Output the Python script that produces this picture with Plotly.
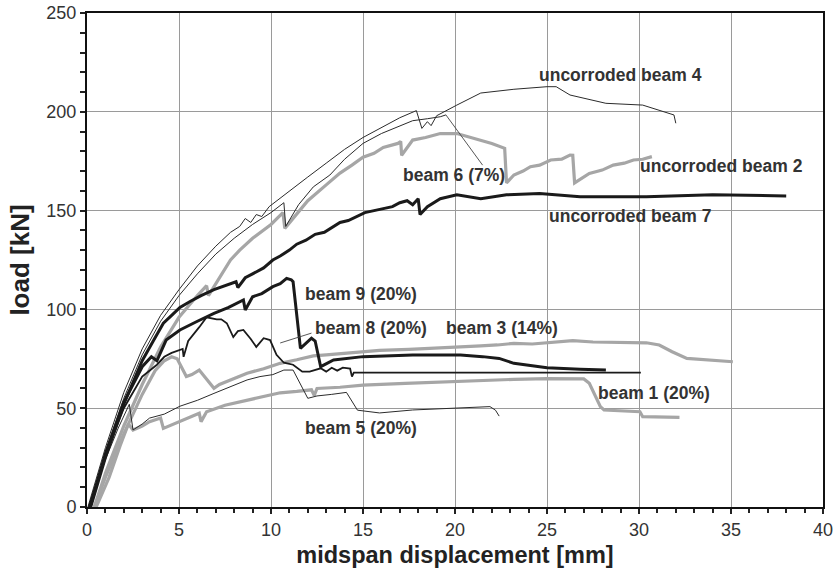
import plotly.graph_objects as go

# ---------------- data ----------------
beam4_x = [0.05, 1, 2, 3, 4, 5, 6, 7, 7.8, 8.3, 8.6, 8.9, 9.2, 9.5, 9.9, 11, 12, 13, 14, 15, 16, 17, 17.9,
           18.2, 18.5, 18.7, 19.0, 19.4, 20.1, 21.4, 23.2, 25.0, 25.5, 26.25, 28.2, 30.2, 31.9, 32.0]
beam4_y = [0, 30, 58, 80, 97, 110, 122, 132, 139, 142, 146, 144, 148, 147, 152, 160, 167, 174, 181, 187, 192, 197, 200.6,
           191.6, 195, 193, 198, 200, 203.4, 209.5, 211.4, 212.7, 212.7, 208.5, 204.3, 203.4, 198.4, 194.2]

beam6_x = [0.15, 1, 2, 3, 4, 5, 6, 7, 8, 9, 10, 10.7, 10.8, 11.5, 12.3, 13.2, 14, 15, 16, 17, 17.7, 18.5, 19.2, 19.5]
beam6_y = [0, 28, 55, 77, 94, 107, 118, 128, 136, 143, 149, 154, 142, 153, 162, 168, 176, 184, 189, 193, 195.5, 196.5, 197.5, 198.4]

beam2_x = [0.4, 1, 2, 3, 4, 5, 6, 6.5, 6.6, 7.0, 7.8, 8.3, 9.0, 10.0, 10.65, 10.75, 11.3, 12.0, 13.0, 13.75, 14.4, 15.0,
           15.6, 16.1, 16.9, 17.05, 17.1, 17.7, 18.4, 19.2, 20.1, 21.0, 22.0, 22.7, 22.8, 23.2, 23.7, 24.1, 24.6, 25.2,
           25.8, 26.25, 26.4, 26.5, 27.3, 28.0, 28.6, 29.2, 29.7, 30.2, 30.7]
beam2_y = [0, 17, 41, 62, 81, 96, 107, 112, 107, 113, 125, 130, 136, 143, 149, 141, 147, 155, 163, 169, 173, 177,
           179, 182, 184, 185, 178, 185.7, 187, 189, 189, 186.6, 184, 181.5, 164, 168, 170, 172.2, 173, 175.6,
           176, 178.1, 178, 164, 168.8, 170.5, 173, 174, 175.6, 176, 177.3]

beam7_x = [0.2, 1, 2, 3, 3.6, 4.15, 4.6, 5.05, 5.6, 6.2, 6.9, 7.5, 8.1, 8.2, 8.6, 9.0, 9.6, 10.1, 10.5, 11.0, 11.4,
           11.9, 12.4, 12.9, 13.4, 13.75, 14.2, 14.7, 15.1, 15.6, 16.1, 16.6, 17.0, 17.4, 17.7, 18.0, 18.1, 18.5,
           19.2, 20.1, 21.4, 22.8, 24.6, 26.8, 30.4, 34.0, 38.0]
beam7_y = [0, 25, 52, 74, 84, 93, 97, 101, 104, 107, 110, 112, 114, 111, 116, 118, 121, 125, 127, 130, 133,
           135, 138, 139, 142, 144, 145, 147, 149, 150, 151, 152, 154, 155, 153, 156, 148, 152,
           156, 158, 156, 158, 158.7, 157, 157, 158, 157.4]

beam9_x = [0.15, 1, 2, 3, 3.5, 3.8, 4.3, 5.05, 6.0, 6.9, 7.7, 8.5, 8.6, 9.0, 9.5, 10.1, 10.5, 10.85, 11.1, 11.2,
           11.6, 11.9, 12.2, 12.4, 12.7, 13.4, 15.0, 17.7, 20.3, 21.5, 22.4, 23.2, 25.0, 26.8, 28.2]
beam9_y = [0, 27, 53, 71, 76, 74, 84.5, 89.6, 94, 98, 101, 104.8, 99.7, 106.4, 108, 111.5, 113, 115.7, 115, 114,
           80.3, 83, 85.4, 84, 71, 74.4, 76.1, 76.9, 76.9, 76.1, 75.2, 72.7, 70.5, 69.7, 69.3]

beam8_x = [0.1, 1, 2, 3, 3.8, 4.2, 4.6, 5.2, 5.25, 5.5, 6.1, 6.5, 7.05, 7.3, 7.6, 7.95, 8.2, 8.5, 8.9, 9.2, 9.6,
           9.95, 10.3, 10.7, 11.2, 11.7, 12.1, 12.7, 13.0, 13.3, 13.6, 13.9, 14.3, 14.4, 14.5, 30.1]
beam8_y = [0, 26, 50, 66, 72, 76, 78, 80, 76, 84, 91, 96, 95, 95, 93, 86, 89, 89.6, 85, 81, 85.4,
           84.5, 77, 73, 72, 68.5, 68.5, 70.2, 68.5, 70.5, 69, 70.5, 70, 66, 68, 68]

beam5_x = [0.1, 1, 1.7, 2.1, 2.3, 2.5, 3.0, 3.4, 4.2, 5.05, 6.0, 6.9, 7.8, 8.7, 9.4, 10.1, 10.7, 11.2, 12.0, 12.5,
           13.3, 14.1, 14.7, 15.9, 17.7, 19.5, 20.5, 21.9, 22.2, 22.4]
beam5_y = [0, 24, 40, 48, 52, 39, 42, 45, 47, 51, 54, 57.5, 61, 64.3, 66, 67, 69.3, 69.3, 55, 56.2,
           57, 58, 49, 47.6, 49.1, 49.9, 50.3, 50.8, 49, 46]

beam3_x = [0.4, 1, 2, 3, 3.7, 4.2, 4.6, 4.9, 5.4, 5.7, 6.1, 6.5, 6.9, 7.2, 8.0, 8.7, 9.6, 10.5, 11.4, 12.3, 13.0,
           13.75, 14.8, 15.9, 17.5, 19.0, 20.2, 21.4, 22.3, 23.2, 24.2, 25.0, 25.7, 26.4, 27.5, 28.6, 29.5, 30.4,
           31.1, 31.8, 32.6, 33.7, 35.1]
beam3_y = [0, 15, 37, 57, 69, 74, 76, 75, 66, 67, 69.3, 65, 60.1, 62, 65, 67.7, 70, 72.7, 74.5, 76.5, 77,
           77.5, 78.5, 79.3, 79.8, 80.3, 81, 81.5, 82, 82.8, 82.5, 83.1, 83.5, 84.2, 83.5, 83.3, 83.5, 83.1,
           82, 78.6, 75.2, 74.4, 73.5]

beam1_x = [0.5, 1.2, 1.8, 2.25, 2.5, 3.0, 3.4, 4.0, 4.15, 4.6, 5.05, 5.6, 6.1, 6.2, 6.5, 7.5, 8.7, 9.6, 10.5, 11.4,
           12.2, 12.35, 12.5, 13.75, 15, 17.3, 19.5, 21.4, 23.2, 25, 27, 27.3, 27.9, 28.1, 29, 30.05, 30.2, 31.2, 32.2]
beam1_y = [0, 15, 31, 42, 39, 41, 43.2, 45, 39.8, 41.5, 43.2, 45.5, 47.4, 43.2, 48.2, 51.5, 54.1, 56, 57.8, 58.5,
           59.3, 56.5, 60, 60.6, 61.7, 62.6, 63.4, 64.3, 64.6, 65, 64.8, 62.6, 50.8, 49.1, 48.6, 48.2, 45.7, 45.6, 45.4]

# leader lines for labels
leader6_x = [19.5, 21.5]
leader6_y = [198.5, 173]
leader8_x = [10.5, 12.2]
leader8_y = [83, 88]

# label texts and anchor points
label_texts = ["uncorroded beam 4", "uncorroded beam 2", "uncorroded beam 7", "beam 6 (7%)",
               "beam 9 (20%)", "beam 8 (20%)", "beam 3 (14%)", "beam 5 (20%)", "beam 1 (20%)"]
label_x = [29.0, 34.5, 29.5, 19.95, 14.9, 15.45, 22.55, 14.9, 30.8]
label_y = [218.7, 172.7, 147.4, 168.0, 107.7, 90.8, 90.8, 40.2, 57.9]

x_ticks = [0, 5, 10, 15, 20, 25, 30, 35, 40]
y_ticks = [0, 50, 100, 150, 200, 250]

GRAY = "#a6a6a6"
BLACK = "#1a1a1a"
THIN = "#2b2b2b"
FONT = "Liberation Sans, Arial, sans-serif"

series = [
    (beam1_x, beam1_y, GRAY, 3.2),
    (beam3_x, beam3_y, GRAY, 3.2),
    (beam2_x, beam2_y, GRAY, 3.2),
    (beam5_x, beam5_y, THIN, 1.0),
    (beam6_x, beam6_y, THIN, 1.0),
    (beam4_x, beam4_y, THIN, 1.0),
    (beam8_x, beam8_y, BLACK, 1.8),
    (beam9_x, beam9_y, BLACK, 3.0),
    (beam7_x, beam7_y, BLACK, 3.0),
]

fig = go.Figure()
for xs, ys, col, w in series:
    fig.add_trace(go.Scatter(x=xs, y=ys, mode="lines",
                             line=dict(color=col, width=w), showlegend=False, hoverinfo="skip"))

for lx, ly in [(leader6_x, leader6_y), (leader8_x, leader8_y)]:
    fig.add_trace(go.Scatter(x=lx, y=ly, mode="lines",
                             line=dict(color="#444444", width=0.9), showlegend=False, hoverinfo="skip"))

for t, x, y in zip(label_texts, label_x, label_y):
    fig.add_annotation(x=x, y=y, text=t, showarrow=False, xanchor="center", yanchor="middle",
                       font=dict(family=FONT, size=17.5, color="#333333", weight="bold"))

axis_common = dict(
    showline=True, linecolor="#111111", linewidth=2, mirror=True,
    showgrid=True, gridcolor="#9a9a9a", gridwidth=1,
    zeroline=False, automargin=False,
    ticks="outside", ticklen=5, tickcolor="#222222", tickwidth=1.5,
    tickfont=dict(family=FONT, size=18, color="#333333"),
)

fig.update_xaxes(range=[0, 40], tickvals=x_ticks, **axis_common,
                 minor=dict(dtick=1, ticks="outside", ticklen=4, tickcolor="#222222", showgrid=False),
                 title=dict(text="midspan displacement [mm]", standoff=8,
                            font=dict(family=FONT, size=23.5, color="#222222", weight="bold")))
fig.update_yaxes(range=[0, 250], tickvals=y_ticks, **axis_common,
                 minor=dict(dtick=10, ticks="outside", ticklen=5, tickcolor="#222222", showgrid=False),
                 title=dict(text="load [kN]", standoff=9,
                            font=dict(family=FONT, size=26, color="#222222", weight="bold")))

fig.update_layout(
    width=838, height=572,
    margin=dict(l=87, r=15, t=13, b=65),
    paper_bgcolor="white", plot_bgcolor="white",
    showlegend=False,
)

fig.write_html("out.html")
